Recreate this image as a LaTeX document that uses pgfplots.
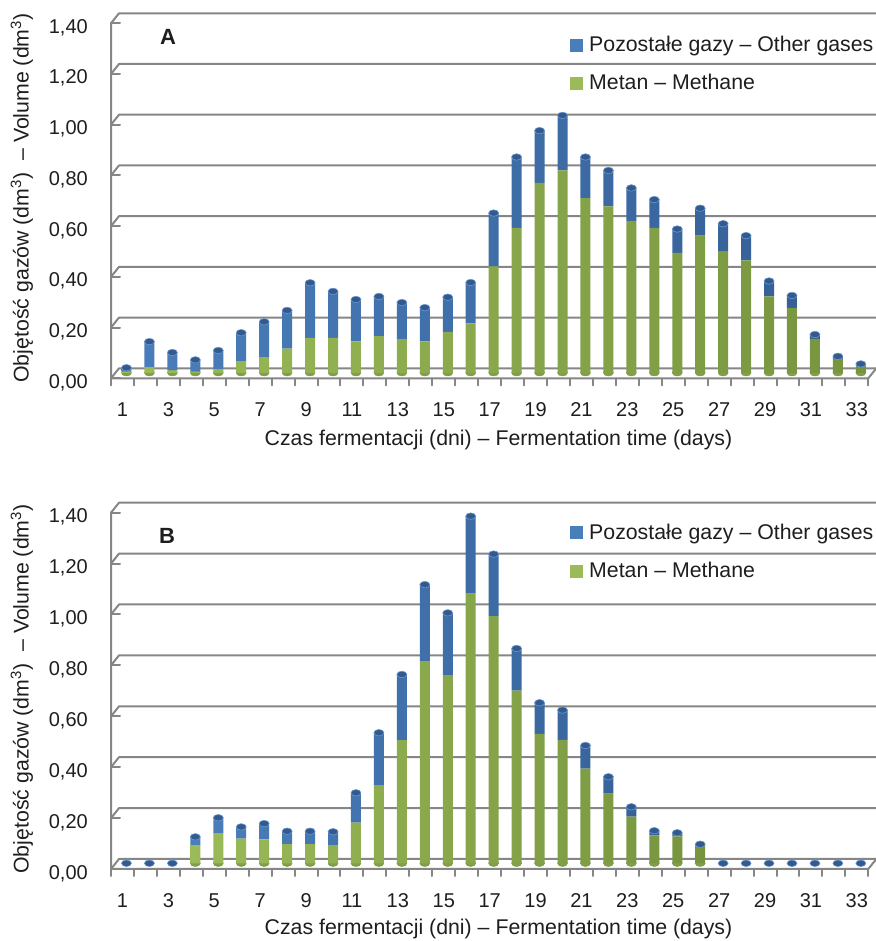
\documentclass[border=0pt]{standalone}
\usepackage{fontspec}
\setmainfont{Liberation Sans}
\usepackage{pgfplots}
\usepackage{pgfplotstable}
\pgfplotsset{compat=1.18}

\definecolor{gridgray}{RGB}{134,134,134}
\definecolor{txt}{RGB}{30,30,30}
\definecolor{gasblue}{RGB}{74,126,187}
\definecolor{gasbluelight}{RGB}{106,152,208}
\definecolor{gasbluedark}{RGB}{52,94,148}
\definecolor{gastop}{RGB}{50,90,142}
\definecolor{methgreen}{RGB}{155,187,89}
\definecolor{methgreenlight}{RGB}{178,206,118}
\definecolor{methgreendark}{RGB}{118,148,62}

% daily gas volumes, dm^3: m = methane, o = other gases
\pgfplotstableread{
day m o
1 0.005 0.015
2 0.022 0.101
3 0.010 0.070
4 0.005 0.046
5 0.013 0.075
6 0.046 0.112
7 0.062 0.139
8 0.095 0.151
9 0.138 0.217
10 0.138 0.183
11 0.124 0.165
12 0.145 0.156
13 0.133 0.144
14 0.124 0.133
15 0.161 0.137
16 0.195 0.161
17 0.420 0.210
18 0.571 0.280
19 0.749 0.206
20 0.798 0.217
21 0.689 0.162
22 0.656 0.142
23 0.599 0.130
24 0.571 0.112
25 0.473 0.094
26 0.541 0.108
27 0.480 0.108
28 0.443 0.098
29 0.301 0.061
30 0.256 0.049
31 0.134 0.017
32 0.055 0.010
33 0.028 0.007
}\dataA

\pgfplotstableread{
day m o
1 0 0
2 0 0
3 0 0
4 0.071 0.033
5 0.117 0.062
6 0.097 0.046
7 0.094 0.062
8 0.075 0.051
9 0.075 0.051
10 0.071 0.053
11 0.160 0.117
12 0.307 0.206
13 0.484 0.258
14 0.794 0.301
15 0.739 0.245
16 1.060 0.304
17 0.971 0.244
18 0.678 0.166
19 0.509 0.122
20 0.485 0.117
21 0.372 0.091
22 0.274 0.066
23 0.183 0.039
24 0.110 0.018
25 0.106 0.014
26 0.069 0.006
27 0 0
28 0 0
29 0 0
30 0 0
31 0 0
32 0 0
33 0 0
}\dataB

\tikzset{frameline/.style={gridgray, line width=2bp, line cap=round, line join=round}}

\pgfplotsset{
  panel/.style={scale only axis, width=757.3bp, xmin=0.5, xmax=33.5,
    ymin=0, ymax=1.4, clip=false, anchor=south west},
  frameaxis/.style={panel,
    axis line style={draw=none},
    xtick={1,3,...,33},
    ytick={0,0.2,0.4,0.6,0.8,1.0,1.2,1.4},
    yticklabels={{0,00},{0,20},{0,40},{0,60},{0,80},{1,00},{1,20},{1,40}},
    xtick pos=bottom, ytick pos=left,
    major tick length=0pt,
    tick label style={font=\fontsize{20bp}{24bp}\selectfont, text=txt, inner sep=0pt},
    yticklabel style={xshift=-23bp, yshift=-4.3bp},
    xticklabel style={yshift=-24.5bp},
    /pgf/number format/assume math mode=true},
  barsaxis/.style={panel, hide axis, ybar stacked, bar width=10bp},
  capsaxis/.style={panel, hide axis},
}

% draws the 3-D frame: back wall grid, floor, front axis lines and ticks
\newcommand\drawframe{%
  \pgfplotsinvokeforeach{0,0.2,0.4,0.6,0.8,1.0,1.2,1.4}{%
    \draw[frameline] (axis cs:0.5,##1) -- ++(9bp,0pt);
    \draw[frameline] (axis cs:0.5,##1) -- ++(8bp,10bp)
      -- ([shift={(8bp,10bp)}]axis cs:33.5,##1);
  }%
  \draw[frameline] (axis cs:0.5,1.4) -- (axis cs:0.5,0) -- (axis cs:33.5,0) -- ++(8bp,10bp);
  \pgfplotsinvokeforeach{0.5,1.5,...,33.5}{%
    \draw[frameline] (axis cs:##1,0) -- ++(0pt,-7bp);
  }%
}

\newcommand\drawbars[1]{%
  \addplot[draw=none, left color=methgreen, middle color=methgreenlight,
    right color=methgreendark] table[x=day, y=m] {#1};
  \addplot[draw=none, left color=gasblue, middle color=gasbluelight,
    right color=gasbluedark] table[x=day, y=o] {#1};
}

% rounded base of each column, drawn behind the columns
\newcommand\drawbases[1]{%
  \addplot[only marks, color=methgreendark, mark=*, mark size=5bp,
    mark options={solid, draw=none, fill=methgreendark!70!methgreen, yscale=0.65},
    restrict expr to domain={\thisrow{m}}{0.001:10}]
    table[x=day, y expr=0] {#1};
}

% top ellipse of each column
\newcommand\drawcaps[1]{%
  \addplot[only marks, color=gastop, mark=*, mark size=5bp,
    mark options={solid, draw=gasbluelight, fill=gastop, line width=0.6bp, yscale=0.65}]
    table[x=day, y expr=\thisrow{m}+\thisrow{o}] {#1};
}

\begin{document}
\begin{tikzpicture}[x=1bp, y=1bp]
\useasboundingbox (0,0) rectangle (876,941);
\fontsize{20bp}{24bp}\selectfont

% ---------- panel A ----------
\begin{axis}[frameaxis, height=355bp, at={(111bp,562.7bp)}]
  \drawframe
\end{axis}
\begin{axis}[capsaxis, height=355bp, at={(115bp,568.2bp)}]
  \drawbases{\dataA}
\end{axis}
\begin{axis}[barsaxis, height=355bp, at={(115bp,568.2bp)}]
  \drawbars{\dataA}
\end{axis}
\begin{axis}[capsaxis, height=355bp, at={(115bp,568.2bp)}]
  \drawcaps{\dataA}
\end{axis}

% ---------- panel B ----------
\begin{axis}[frameaxis, height=356.3bp, at={(111bp,72bp)}]
  \drawframe
\end{axis}
\begin{axis}[capsaxis, height=356.3bp, at={(115bp,77.7bp)}]
  \drawbases{\dataB}
\end{axis}
\begin{axis}[barsaxis, height=356.3bp, at={(115bp,77.7bp)}]
  \drawbars{\dataB}
\end{axis}
\begin{axis}[capsaxis, height=356.3bp, at={(115bp,77.7bp)}]
  \drawcaps{\dataB}
\end{axis}

% ---------- titles and legends ----------
\begin{scope}[every node/.style={inner sep=0pt, text=txt,
    font=\fontsize{21.3bp}{25bp}\selectfont}]
  \node[rotate=90] at (22,743) {Objętość gazów (dm\textsuperscript{3})\ \ – Volume (dm\textsuperscript{3})};
  \node[rotate=90] at (22,252) {Objętość gazów (dm\textsuperscript{3})\ \ – Volume (dm\textsuperscript{3})};
  \node at (498.5,501) {Czas fermentacji (dni) – Fermentation time (days)};
  \node at (498.5,12) {Czas fermentacji (dni) – Fermentation time (days)};

  \node[font=\bfseries\fontsize{22bp}{26bp}\selectfont] at (168,904) {A};
  \node[font=\bfseries\fontsize{22bp}{26bp}\selectfont] at (167,405) {B};

  \fill[gasblue] (569.5,889.3) rectangle ++(13.5,13);
  \node[anchor=base west] at (589,889.3) {Pozostałe gazy – Other gases};
  \fill[methgreen] (569.5,851) rectangle ++(13.5,13);
  \node[anchor=base west] at (589,851) {Metan – Methane};

  \fill[gasblue] (569.5,401.7) rectangle ++(13.5,13);
  \node[anchor=base west] at (589,401.7) {Pozostałe gazy – Other gases};
  \fill[methgreen] (569.5,363.3) rectangle ++(13.5,13);
  \node[anchor=base west] at (589,363.3) {Metan – Methane};
\end{scope}
\end{tikzpicture}
\end{document}
